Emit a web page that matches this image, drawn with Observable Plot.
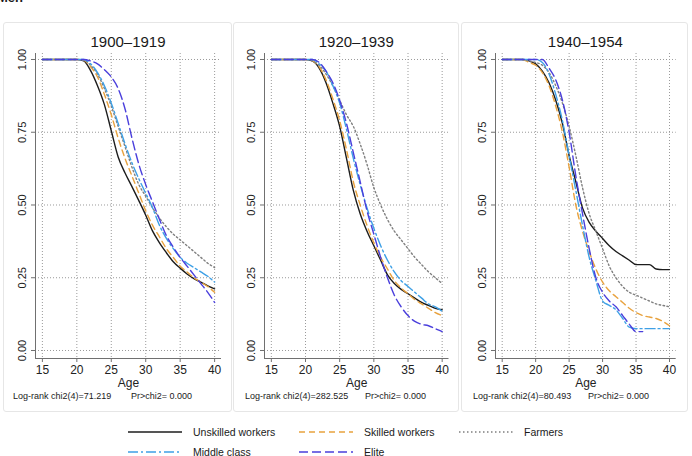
<!DOCTYPE html>
<html>
<head>
<meta charset="utf-8">
<script src="https://cdn.jsdelivr.net/npm/d3@7"></script>
<script src="https://cdn.jsdelivr.net/npm/@observablehq/plot@0.6"></script>
<style>
  body { margin: 0; background: #fff; font-family: "Liberation Sans", Arial, sans-serif; color: #1a1a1a; }
  #root { position: relative; width: 692px; height: 456px; overflow: hidden; }
  .heading { position: absolute; left: -3px; top: -9px; font-size: 13px; font-weight: bold; line-height: 14px; }
  .panel { position: absolute; top: 22px; height: 390px; border: 1px solid #e6e6e6; border-radius: 3px; box-sizing: border-box; background: #fff; }
  .chart { position: absolute; top: 22px; }
  .title { position: absolute; top: 34px; font-size: 15px; line-height: 16px; white-space: nowrap; transform: translateX(-50%); }
  .note { position: absolute; top: 391px; font-size: 9px; line-height: 10px; white-space: nowrap; }
  .legend { position: absolute; font-size: 10.5px; line-height: 12px; white-space: nowrap; display: flex; align-items: center; }
  .legend svg { margin-right: 11px; }
</style>
</head>
<body>
<div id="root">
  <div class="heading">Men</div>
</div>
<script>
// Kaplan–Meier survival (share not yet married) by age, three birth cohorts
const groups = ["Unskilled workers", "Skilled workers", "Farmers", "Middle class", "Elite"];
const colors = ["#1c1c1c", "#e8a23e", "#7f7f7f", "#3ea0e6", "#4a3fdc"];
const dashes = [null, "6,4", "1.5,2.5", "10,3,2,3", "9,4"];

const ages = [15, 18, 19, 20, 21, 22, 23, 24, 25, 26, 27, 28, 29, 30, 31, 32, 33, 34, 35, 36, 37, 38, 39, 40];
const xTicks = [15, 20, 25, 30, 35, 40];
const yTicks = [0, 0.25, 0.5, 0.75, 1];

// Cohort 1900–1919
const unskilled1900 = [1, 1, 1, 1, 0.995, 0.962, 0.91, 0.845, 0.755, 0.665, 0.61, 0.563, 0.515, 0.465, 0.41, 0.37, 0.336, 0.305, 0.283, 0.263, 0.247, 0.235, 0.222, 0.212];
const skilled1900 = [1, 1, 1, 1, 0.997, 0.975, 0.94, 0.88, 0.81, 0.73, 0.66, 0.6, 0.54, 0.48, 0.43, 0.39, 0.35, 0.32, 0.29, 0.27, 0.25, 0.235, 0.22, 0.2];
const farmers1900 = [1, 1, 1, 1, 0.998, 0.98, 0.95, 0.9, 0.84, 0.77, 0.7, 0.63, 0.57, 0.53, 0.49, 0.455, 0.425, 0.4, 0.38, 0.36, 0.34, 0.32, 0.3, 0.285];
const middle1900 = [1, 1, 1, 1, 1, 0.985, 0.955, 0.91, 0.85, 0.78, 0.71, 0.645, 0.59, 0.54, 0.49, 0.43, 0.385, 0.35, 0.32, 0.3, 0.285, 0.27, 0.255, 0.235];
const elite1900 = [1, 1, 1, 1, 1, 0.995, 0.985, 0.965, 0.94, 0.9, 0.83, 0.73, 0.64, 0.57, 0.51, 0.45, 0.395, 0.355, 0.32, 0.29, 0.26, 0.23, 0.2, 0.165];

// Cohort 1920–1939
const unskilled1920 = [1, 1, 1, 1, 0.995, 0.97, 0.92, 0.85, 0.77, 0.66, 0.55, 0.47, 0.41, 0.36, 0.31, 0.26, 0.23, 0.21, 0.195, 0.18, 0.165, 0.155, 0.145, 0.14];
const skilled1920 = [1, 1, 1, 1, 0.995, 0.975, 0.93, 0.865, 0.79, 0.69, 0.58, 0.5, 0.43, 0.37, 0.32, 0.28, 0.24, 0.215, 0.195, 0.175, 0.16, 0.145, 0.13, 0.12];
const farmers1920 = [1, 1, 1, 1, 0.995, 0.98, 0.95, 0.91, 0.86, 0.81, 0.77, 0.71, 0.64, 0.56, 0.5, 0.45, 0.41, 0.38, 0.35, 0.32, 0.295, 0.27, 0.25, 0.23];
const middle1920 = [1, 1, 1, 1, 1, 0.985, 0.96, 0.91, 0.85, 0.76, 0.66, 0.57, 0.49, 0.42, 0.36, 0.31, 0.27, 0.24, 0.22, 0.2, 0.18, 0.16, 0.15, 0.135];
const elite1920 = [1, 1, 1, 1, 1, 0.99, 0.96, 0.92, 0.86, 0.78, 0.68, 0.58, 0.48, 0.4, 0.32, 0.25, 0.19, 0.15, 0.12, 0.1, 0.09, 0.085, 0.075, 0.065];

// Cohort 1940–1954
const unskilled1940 = [1, 1, 0.995, 0.985, 0.96, 0.92, 0.86, 0.78, 0.67, 0.58, 0.49, 0.44, 0.41, 0.385, 0.36, 0.34, 0.325, 0.31, 0.295, 0.295, 0.295, 0.28, 0.278, 0.278];
const skilled1940 = [1, 1, 0.99, 0.98, 0.955, 0.91, 0.84, 0.75, 0.63, 0.5, 0.41, 0.34, 0.28, 0.235, 0.205, 0.185, 0.165, 0.145, 0.13, 0.12, 0.115, 0.11, 0.1, 0.085];
const farmers1940 = [1, 1, 0.995, 0.99, 0.98, 0.955, 0.91, 0.85, 0.77, 0.67, 0.56, 0.47, 0.41, 0.35, 0.29, 0.25, 0.22, 0.2, 0.19, 0.18, 0.17, 0.16, 0.155, 0.15];
const middle1940 = [1, 1, 1, 1, 0.99, 0.95, 0.88, 0.79, 0.67, 0.55, 0.43, 0.32, 0.24, 0.17, 0.155, 0.14, 0.11, 0.08, 0.075, 0.075, 0.075, 0.075, 0.075, 0.075];
const elite1940 = [1, 1, 1, 1, 1, 0.97, 0.93, 0.86, 0.75, 0.6, 0.47, 0.35, 0.25, 0.2, 0.17, 0.15, 0.12, 0.09, 0.065, 0.065, null, null, null, null];

const cohorts = [
  {title: "1900–1919", chi: "71.219", series: [unskilled1900, skilled1900, farmers1900, middle1900, elite1900], left: 3, width: 229, ml: 32, mr: 11, noteX: 10, prX: 128},
  {title: "1920–1939", chi: "282.525", series: [unskilled1920, skilled1920, farmers1920, middle1920, elite1920], left: 233, width: 226, ml: 31, mr: 10.5, noteX: 12, prX: 132},
  {title: "1940–1954", chi: "80.493", series: [unskilled1940, skilled1940, farmers1940, middle1940, elite1940], left: 461, width: 227, ml: 34, mr: 12.3, noteX: 12, prX: 127}
];

const root = document.getElementById("root");
const xDomain = [14, 41];
const yDomain = [-0.0275, 1.0206];

for (const c of cohorts) {
  const panel = document.createElement("div");
  panel.className = "panel";
  panel.style.left = c.left + "px";
  panel.style.width = c.width + "px";
  root.appendChild(panel);

  const lines = c.series.map((vals, i) => {
    const rows = ages.map((a, j) => ({age: a, s: vals[j]})).filter(d => d.s != null);
    return Plot.line(rows, {
      x: "age", y: "s", stroke: colors[i], strokeWidth: 1.4,
      strokeDasharray: dashes[i] ?? undefined, curve: "monotone-x"
    });
  });

  const chart = Plot.plot({
    width: c.width, height: 370,
    marginLeft: c.ml, marginRight: c.mr, marginTop: 31, marginBottom: 34,
    style: {background: "transparent", color: "#222", fontFamily: "Liberation Sans, Arial, sans-serif"},
    x: {domain: xDomain},
    y: {domain: yDomain},
    marks: [
      Plot.gridX(xTicks, {stroke: "#9a9a9a", strokeOpacity: 1, strokeDasharray: "1,2"}),
      Plot.gridY(yTicks, {stroke: "#9a9a9a", strokeOpacity: 1, strokeDasharray: "1,2"}),
      Plot.ruleX([xDomain[0]], {stroke: "#707070"}),
      Plot.ruleY([yDomain[0]], {stroke: "#707070"}),
      Plot.axisX(xTicks, {tickSize: 4, tickPadding: 3, fontSize: 12, stroke: "#707070",
        label: "Age", labelAnchor: "center", labelArrow: "none", labelOffset: 28}),
      Plot.axisY(yTicks, {tickSize: 4, tickPadding: 6, tickRotate: -90, fontSize: 11, stroke: "#707070",
        tickFormat: d3.format(".2f"), label: null}),
      ...lines
    ]
  });
  chart.classList.add("chart");
  chart.style.left = c.left + "px";
  root.appendChild(chart);

  const x15 = c.left + c.ml + (15 - xDomain[0]) / (xDomain[1] - xDomain[0]) * (c.width - c.ml - c.mr);
  const x40 = c.left + c.ml + (40 - xDomain[0]) / (xDomain[1] - xDomain[0]) * (c.width - c.ml - c.mr);
  const title = document.createElement("div");
  title.className = "title";
  title.textContent = c.title;
  title.style.left = ((x15 + x40) / 2) + "px";
  root.appendChild(title);

  const note = document.createElement("div");
  note.className = "note";
  note.style.left = (c.left + c.noteX) + "px";
  note.textContent = `Log-rank chi2(4)=${c.chi}`;
  root.appendChild(note);

  const pr = document.createElement("div");
  pr.className = "note";
  pr.style.left = (c.left + c.prX) + "px";
  pr.textContent = "Pr>chi2= 0.000";
  root.appendChild(pr);
}

// Legend: two rows of line samples
const legendPos = [[128, 432], [299, 432], [459, 432], [128, 452], [299, 452]];
groups.forEach((g, i) => {
  const item = document.createElement("div");
  item.className = "legend";
  item.style.left = legendPos[i][0] + "px";
  item.style.top = (legendPos[i][1] - 6) + "px";
  item.innerHTML = `<svg width="54" height="12"><line x1="0" x2="54" y1="6" y2="6" stroke="${colors[i]}" stroke-width="1.5" ${dashes[i] ? `stroke-dasharray="${dashes[i]}"` : ""}/></svg><span>${g}</span>`;
  root.appendChild(item);
});
</script>
</body>
</html>
